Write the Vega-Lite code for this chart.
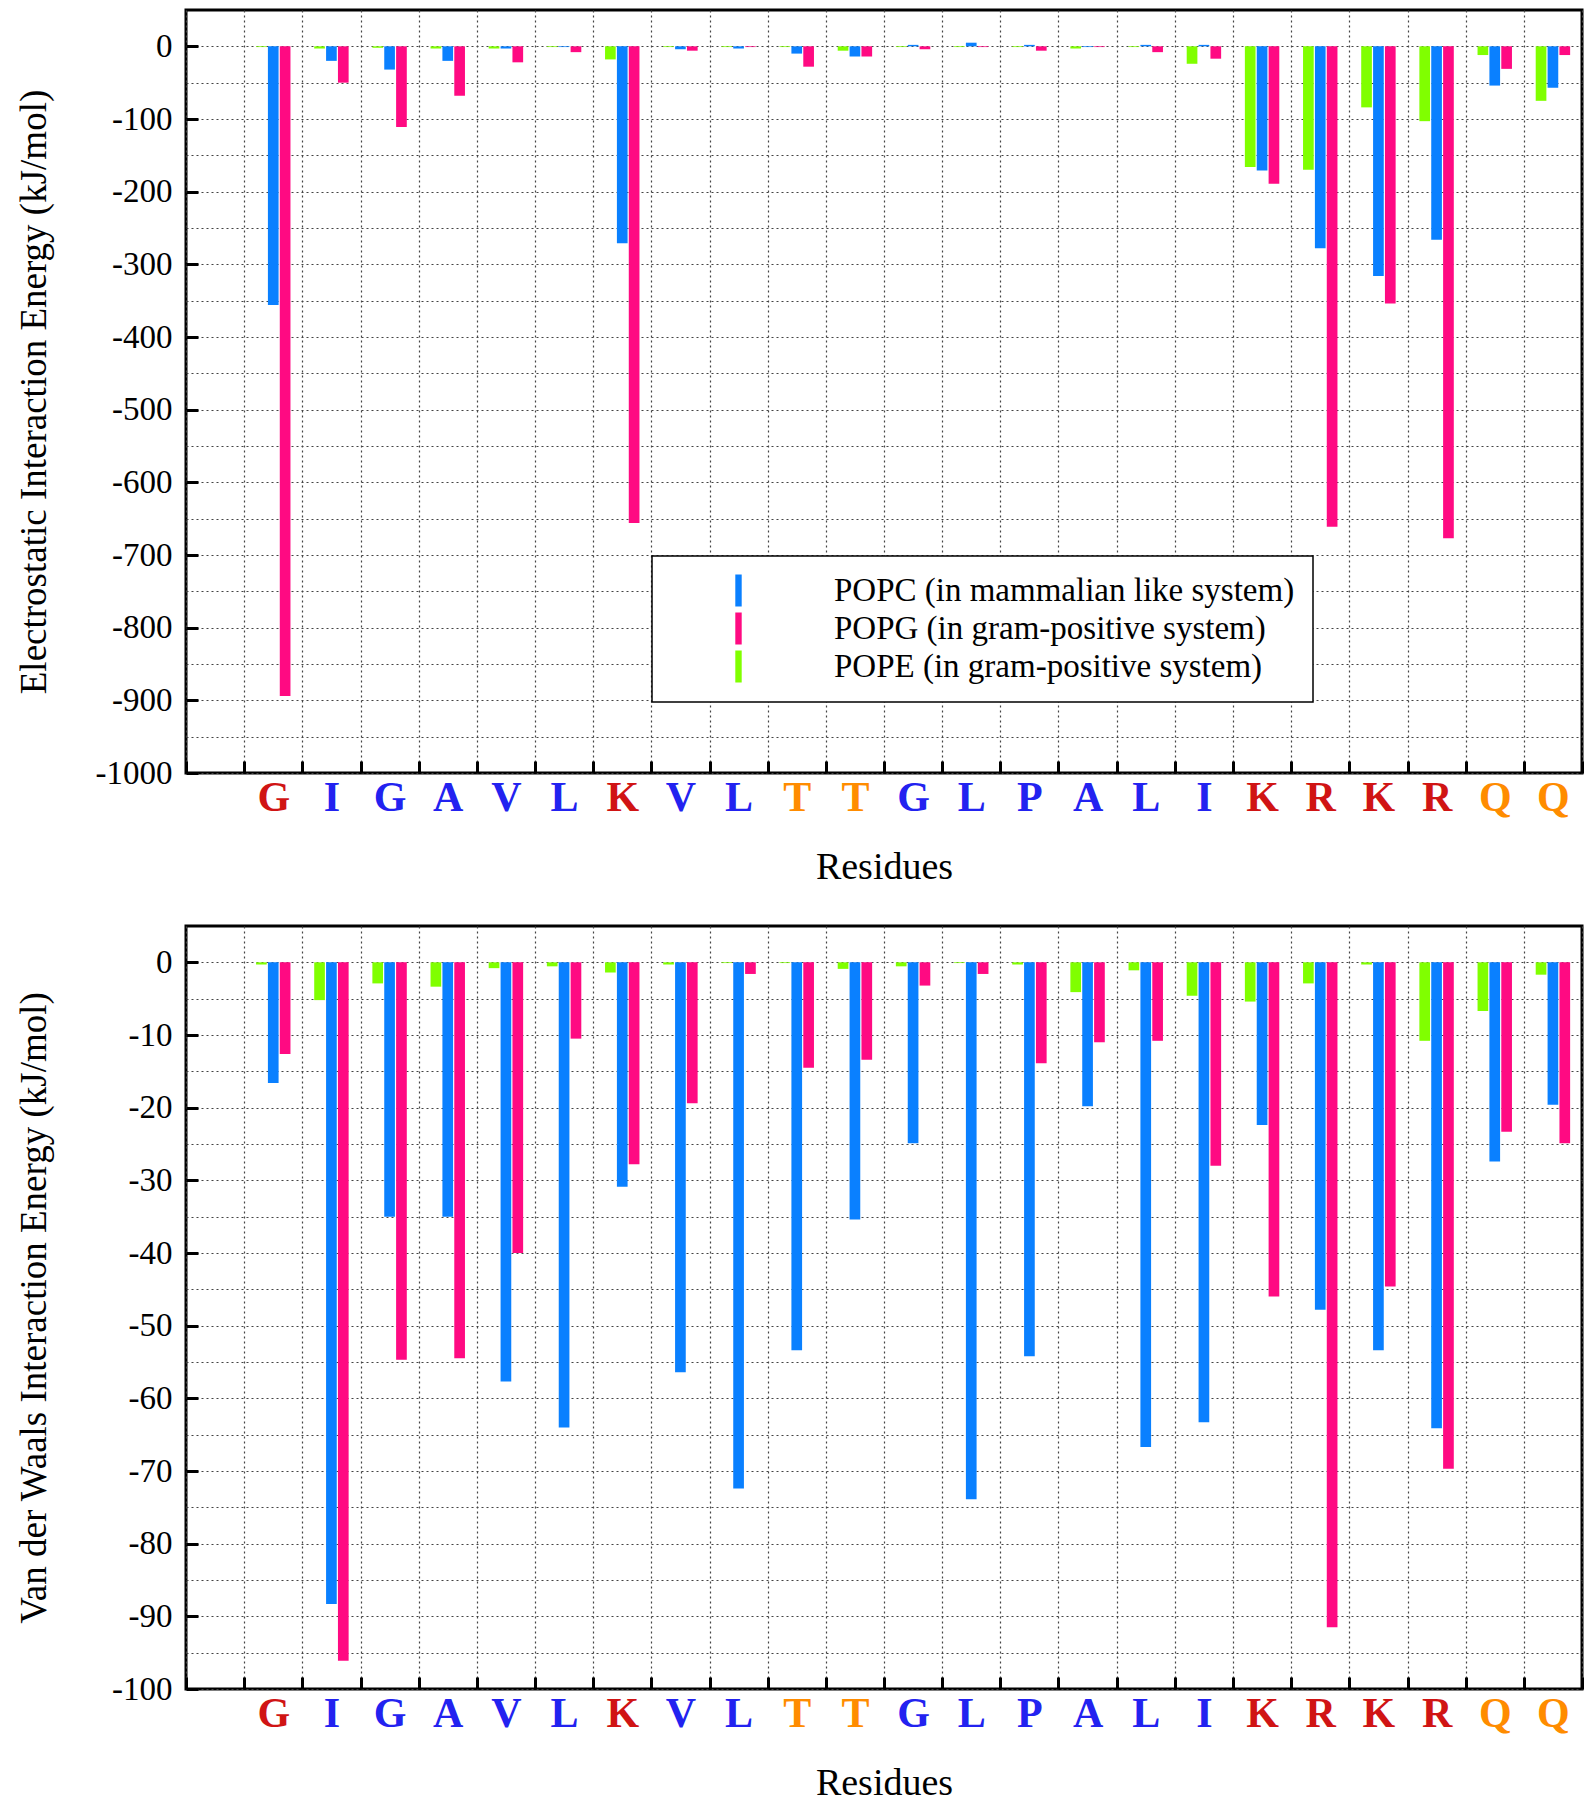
{
  "$schema": "https://vega.github.io/schema/vega-lite/v6.json",
  "background": "white",
  "padding": {"left": 13, "top": 8, "right": 5, "bottom": 0},
  "spacing": 36,
  "data": {
    "values": [
      {"res": "G1", "lipid": "POPC", "elec": -356, "vdw": -16.6},
      {"res": "G1", "lipid": "POPG", "elec": -894, "vdw": -12.6},
      {"res": "G1", "lipid": "POPE", "elec": -1, "vdw": -0.3},
      {"res": "I2", "lipid": "POPC", "elec": -20, "vdw": -88.3},
      {"res": "I2", "lipid": "POPG", "elec": -50, "vdw": -96.1},
      {"res": "I2", "lipid": "POPE", "elec": -3, "vdw": -5.2},
      {"res": "G3", "lipid": "POPC", "elec": -32, "vdw": -35.0},
      {"res": "G3", "lipid": "POPG", "elec": -111, "vdw": -54.7},
      {"res": "G3", "lipid": "POPE", "elec": -2, "vdw": -2.9},
      {"res": "A4", "lipid": "POPC", "elec": -20, "vdw": -35.0},
      {"res": "A4", "lipid": "POPG", "elec": -68, "vdw": -54.5},
      {"res": "A4", "lipid": "POPE", "elec": -3, "vdw": -3.35},
      {"res": "V5", "lipid": "POPC", "elec": -3, "vdw": -57.7},
      {"res": "V5", "lipid": "POPG", "elec": -22, "vdw": -40.0},
      {"res": "V5", "lipid": "POPE", "elec": -3, "vdw": -0.8},
      {"res": "L6", "lipid": "POPC", "elec": -1, "vdw": -64.0},
      {"res": "L6", "lipid": "POPG", "elec": -8, "vdw": -10.5},
      {"res": "L6", "lipid": "POPE", "elec": -1, "vdw": -0.55},
      {"res": "K7", "lipid": "POPC", "elec": -271, "vdw": -30.9},
      {"res": "K7", "lipid": "POPG", "elec": -656, "vdw": -27.8},
      {"res": "K7", "lipid": "POPE", "elec": -18, "vdw": -1.4},
      {"res": "V8", "lipid": "POPC", "elec": -4, "vdw": -56.4},
      {"res": "V8", "lipid": "POPG", "elec": -6, "vdw": -19.4},
      {"res": "V8", "lipid": "POPE", "elec": -1, "vdw": -0.3},
      {"res": "L9", "lipid": "POPC", "elec": -3, "vdw": -72.4},
      {"res": "L9", "lipid": "POPG", "elec": -1, "vdw": -1.6},
      {"res": "L9", "lipid": "POPE", "elec": -1, "vdw": -0.1},
      {"res": "T10", "lipid": "POPC", "elec": -10, "vdw": -53.4},
      {"res": "T10", "lipid": "POPG", "elec": -28, "vdw": -14.5},
      {"res": "T10", "lipid": "POPE", "elec": -1, "vdw": -0.1},
      {"res": "T11", "lipid": "POPC", "elec": -14, "vdw": -35.4},
      {"res": "T11", "lipid": "POPG", "elec": -14, "vdw": -13.4},
      {"res": "T11", "lipid": "POPE", "elec": -6, "vdw": -0.9},
      {"res": "G12", "lipid": "POPC", "elec": 2, "vdw": -24.9},
      {"res": "G12", "lipid": "POPG", "elec": -4, "vdw": -3.2},
      {"res": "G12", "lipid": "POPE", "elec": -1, "vdw": -0.55},
      {"res": "L13", "lipid": "POPC", "elec": 5, "vdw": -73.9},
      {"res": "L13", "lipid": "POPG", "elec": -1, "vdw": -1.6},
      {"res": "L13", "lipid": "POPE", "elec": -1, "vdw": -0.1},
      {"res": "P14", "lipid": "POPC", "elec": 2, "vdw": -54.2},
      {"res": "P14", "lipid": "POPG", "elec": -6, "vdw": -13.9},
      {"res": "P14", "lipid": "POPE", "elec": -1, "vdw": -0.3},
      {"res": "A15", "lipid": "POPC", "elec": -1, "vdw": -19.8},
      {"res": "A15", "lipid": "POPG", "elec": -1, "vdw": -11.0},
      {"res": "A15", "lipid": "POPE", "elec": -3, "vdw": -4.1},
      {"res": "L16", "lipid": "POPC", "elec": 2, "vdw": -66.7},
      {"res": "L16", "lipid": "POPG", "elec": -8, "vdw": -10.8},
      {"res": "L16", "lipid": "POPE", "elec": -1, "vdw": -1.1},
      {"res": "I17", "lipid": "POPC", "elec": 2, "vdw": -63.3},
      {"res": "I17", "lipid": "POPG", "elec": -17, "vdw": -28.0},
      {"res": "I17", "lipid": "POPE", "elec": -24, "vdw": -4.6},
      {"res": "K18", "lipid": "POPC", "elec": -171, "vdw": -22.4},
      {"res": "K18", "lipid": "POPG", "elec": -189, "vdw": -46.0},
      {"res": "K18", "lipid": "POPE", "elec": -166, "vdw": -5.4},
      {"res": "R19", "lipid": "POPC", "elec": -278, "vdw": -47.8},
      {"res": "R19", "lipid": "POPG", "elec": -661, "vdw": -91.5},
      {"res": "R19", "lipid": "POPE", "elec": -170, "vdw": -2.9},
      {"res": "K20", "lipid": "POPC", "elec": -316, "vdw": -53.4},
      {"res": "K20", "lipid": "POPG", "elec": -354, "vdw": -44.6},
      {"res": "K20", "lipid": "POPE", "elec": -84, "vdw": -0.3},
      {"res": "R21", "lipid": "POPC", "elec": -266, "vdw": -64.1},
      {"res": "R21", "lipid": "POPG", "elec": -677, "vdw": -69.7},
      {"res": "R21", "lipid": "POPE", "elec": -103, "vdw": -10.8},
      {"res": "Q22", "lipid": "POPC", "elec": -54, "vdw": -27.4},
      {"res": "Q22", "lipid": "POPG", "elec": -31, "vdw": -23.3},
      {"res": "Q22", "lipid": "POPE", "elec": -12, "vdw": -6.7},
      {"res": "Q23", "lipid": "POPC", "elec": -57, "vdw": -19.6},
      {"res": "Q23", "lipid": "POPG", "elec": -12, "vdw": -24.9},
      {"res": "Q23", "lipid": "POPE", "elec": -75, "vdw": -1.7}
    ]
  },
  "vconcat": [
    {
      "width": 1396,
      "height": 763,
      "mark": {"type": "bar"},
      "encoding": {
        "x": {
          "field": "res",
          "type": "nominal",
          "scale": {
            "domain": ["0", "G1", "I2", "G3", "A4", "V5", "L6", "K7", "V8", "L9", "T10", "T11", "G12", "L13", "P14", "A15", "L16", "I17", "K18", "R19", "K20", "R21", "Q22", "Q23"],
            "paddingInner": 0,
            "paddingOuter": 0
          },
          "axis": {
            "title": "Residues",
            "titleY": 94,
            "titleBaseline": "middle",
            "titleFontSize": 38,
            "labelExpr": "(datum.value == null || datum.value == '0') ? '' : substring(datum.value, 0, 1)",
            "labelColor": {"expr": "indexof(['G1','K7','K18','R19','K20','R21'], datum.value) >= 0 ? '#d01414' : (indexof(['T10','T11','Q22','Q23'], datum.value) >= 0 ? '#ff8c00' : '#2222f0')"},
            "labelFontSize": 42,
            "labelFontWeight": "bold",
            "labelAngle": 0,
            "labelPadding": 16,
            "tickBand": "extent"
          }
        },
        "xOffset": {
          "field": "lipid",
          "type": "nominal",
          "scale": {"domain": ["POPE", "POPC", "POPG"], "paddingInner": 0.1, "paddingOuter": 1.4}
        },
        "y": {
          "field": "elec",
          "type": "quantitative",
          "scale": {"domain": [-1000, 50], "nice": false},
          "axis": {
            "title": "Electrostatic Interaction Energy (kJ/mol)",
            "titleX": -152,
            "titleBaseline": "middle",
            "titleFontSize": 37,
            "values": [0, -50, -100, -150, -200, -250, -300, -350, -400, -450, -500, -550, -600, -650, -700, -750, -800, -850, -900, -950, -1000],
            "labelExpr": "datum.value % 100 == 0 ? '' + datum.value : ''",
            "labelColor": "black",
            "tickOpacity": {"condition": {"test": "datum.value % 100 != 0", "value": 0}, "value": 1},
            "labelPadding": 26
          }
        },
        "color": {
          "field": "lipid",
          "type": "nominal",
          "scale": {"domain": ["POPC", "POPG", "POPE"], "range": ["#0a80ff", "#ff0a82", "#80ff00"]},
          "legend": {
            "title": null,
            "orient": "none",
            "legendX": 466,
            "legendY": 546,
            "direction": "vertical",
            "fillColor": "white",
            "strokeColor": "black",
            "padding": 18,
            "symbolType": "M-0.2,-1H0.2V1H-0.2Z",
            "symbolSize": 1024,
            "symbolStrokeWidth": 0,
            "symbolOffset": 52,
            "labelOffset": 79,
            "labelFontSize": 33,
            "labelLimit": 0,
            "rowPadding": 4,
            "labelExpr": "datum.value == 'POPC' ? 'POPC (in mammalian like system)' : datum.value + ' (in gram-positive system)'",
            "encode": {
              "legend": {"update": {"strokeWidth": {"value": 1.5}}}
            }
          }
        }
      }
    },
    {
      "width": 1396,
      "height": 763,
      "mark": {"type": "bar"},
      "encoding": {
        "x": {
          "field": "res",
          "type": "nominal",
          "scale": {
            "domain": ["0", "G1", "I2", "G3", "A4", "V5", "L6", "K7", "V8", "L9", "T10", "T11", "G12", "L13", "P14", "A15", "L16", "I17", "K18", "R19", "K20", "R21", "Q22", "Q23"],
            "paddingInner": 0,
            "paddingOuter": 0
          },
          "axis": {
            "title": "Residues",
            "titleY": 94,
            "titleBaseline": "middle",
            "titleFontSize": 38,
            "labelExpr": "(datum.value == null || datum.value == '0') ? '' : substring(datum.value, 0, 1)",
            "labelColor": {"expr": "indexof(['G1','K7','K18','R19','K20','R21'], datum.value) >= 0 ? '#d01414' : (indexof(['T10','T11','Q22','Q23'], datum.value) >= 0 ? '#ff8c00' : '#2222f0')"},
            "labelFontSize": 42,
            "labelFontWeight": "bold",
            "labelAngle": 0,
            "labelPadding": 16,
            "tickBand": "extent"
          }
        },
        "xOffset": {
          "field": "lipid",
          "type": "nominal",
          "scale": {"domain": ["POPE", "POPC", "POPG"], "paddingInner": 0.1, "paddingOuter": 1.4}
        },
        "y": {
          "field": "vdw",
          "type": "quantitative",
          "scale": {"domain": [-100, 5], "nice": false},
          "axis": {
            "title": "Van der Waals Interaction Energy (kJ/mol)",
            "titleX": -152,
            "titleBaseline": "middle",
            "titleFontSize": 37,
            "values": [0, -5, -10, -15, -20, -25, -30, -35, -40, -45, -50, -55, -60, -65, -70, -75, -80, -85, -90, -95, -100],
            "labelExpr": "datum.value % 10 == 0 ? '' + datum.value : ''",
            "labelColor": "black",
            "tickOpacity": {"condition": {"test": "datum.value % 10 != 0", "value": 0}, "value": 1},
            "labelPadding": 26
          }
        },
        "color": {
          "field": "lipid",
          "type": "nominal",
          "scale": {"domain": ["POPC", "POPG", "POPE"], "range": ["#0a80ff", "#ff0a82", "#80ff00"]},
          "legend": null
        }
      }
    }
  ],
  "resolve": {"scale": {"color": "independent"}, "legend": {"color": "independent"}},
  "config": {
    "font": "Liberation Serif",
    "view": {"stroke": "black", "strokeWidth": 3},
    "axis": {
      "labelFont": "Liberation Serif",
      "titleFont": "Liberation Serif",
      "titleColor": "black",
      "labelFontSize": 33,
      "titleFontWeight": "normal",
      "domain": false,
      "ticks": true,
      "tickSize": -12,
      "tickWidth": 3,
      "tickColor": "black",
      "grid": true,
      "gridColor": "#444444",
      "gridDash": [2, 3],
      "gridWidth": 1.2,
      "gridOpacity": 1
    },
    "legend": {
      "labelFont": "Liberation Serif",
      "labelColor": "black"
    }
  }
}
